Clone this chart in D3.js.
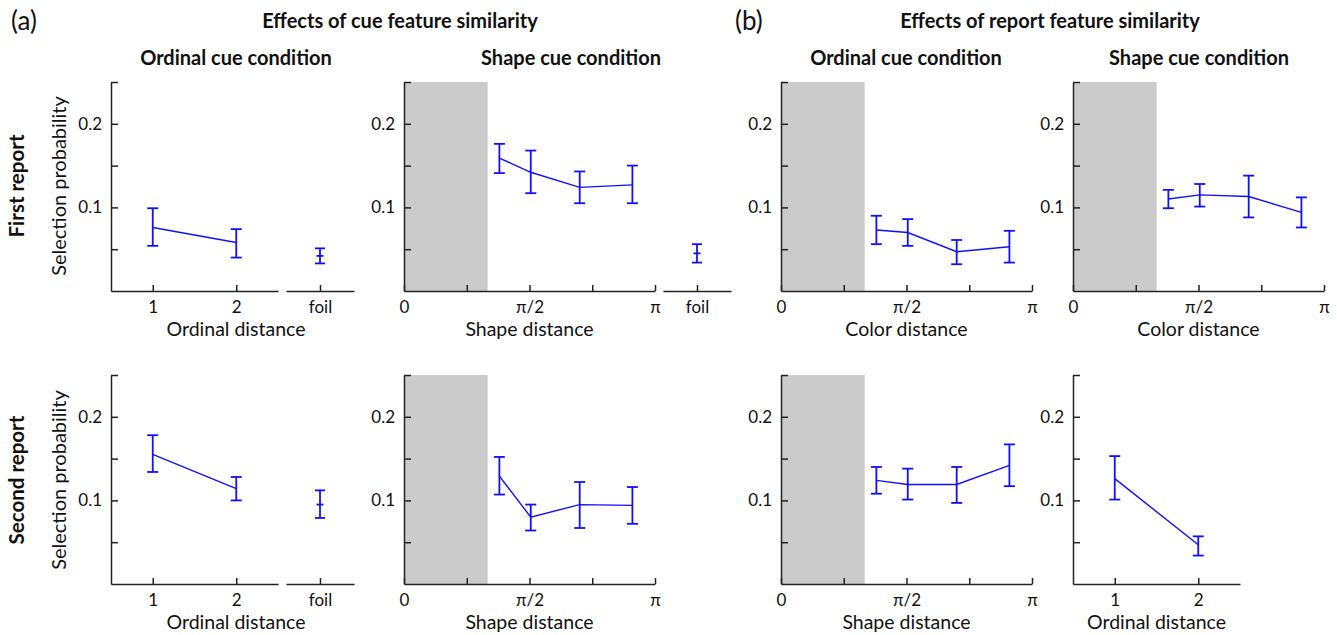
<!doctype html>
<html lang="en">
  <head>
    <meta charset="utf-8">
    <title>Feature similarity</title>
    <style>
      * { margin: 0; border: 0; padding: 0; }
      body { background-color: #fff; }
      text { font-family: Lato, 'Open Sans', sans-serif; fill: #111; }
      .axis path, .axis line { stroke: #222; stroke-width: 1.5px; }
      .axis text { font-size: 17px; fill: #111; font-family: Lato, sans-serif; }
      .series { fill: none; stroke: #1010ff; stroke-width: 1.4px; }
      .err { stroke: #1010ff; stroke-width: 1.8px; }
    </style>
  </head>
  <body>
    <div id="plot"></div>

<script src="https://d3js.org/d3.v7.min.js"></script>
<script>

  // x positions
  var ordinalX = [1, 2];
  var angleX = [0.38, 0.505, 0.70, 0.91];   // in units of pi
  var shadeEnd = 1 / 3;                      // grey region, units of pi

  // (a) first report
  var ordFirstMean = [0.076, 0.058];
  var ordFirstLo   = [0.054, 0.040];
  var ordFirstHi   = [0.099, 0.074];
  var ordFirstFoil = [0.042, 0.033, 0.051];  // mean, lo, hi

  var shapeFirstMean = [0.159, 0.142, 0.124, 0.127];
  var shapeFirstLo   = [0.141, 0.117, 0.105, 0.105];
  var shapeFirstHi   = [0.176, 0.168, 0.143, 0.150];
  var shapeFirstFoil = [0.045, 0.034, 0.056];

  // (b) first report
  var colorOrdFirstMean = [0.073, 0.070, 0.047, 0.053];
  var colorOrdFirstLo   = [0.056, 0.054, 0.032, 0.034];
  var colorOrdFirstHi   = [0.090, 0.086, 0.061, 0.072];

  var colorShapeFirstMean = [0.110, 0.115, 0.113, 0.094];
  var colorShapeFirstLo   = [0.099, 0.101, 0.088, 0.076];
  var colorShapeFirstHi   = [0.121, 0.128, 0.138, 0.112];

  // (a) second report
  var ordSecondMean = [0.155, 0.114];
  var ordSecondLo   = [0.134, 0.100];
  var ordSecondHi   = [0.178, 0.128];
  var ordSecondFoil = [0.095, 0.079, 0.112];

  var shapeSecondMean = [0.129, 0.080, 0.095, 0.094];
  var shapeSecondLo   = [0.107, 0.064, 0.067, 0.072];
  var shapeSecondHi   = [0.152, 0.095, 0.122, 0.116];

  // (b) second report
  var shapeOrdSecondMean = [0.124, 0.119, 0.119, 0.142];
  var shapeOrdSecondLo   = [0.108, 0.101, 0.097, 0.117];
  var shapeOrdSecondHi   = [0.140, 0.138, 0.140, 0.167];

  var ordShapeSecondMean = [0.126, 0.047];
  var ordShapeSecondLo   = [0.101, 0.034];
  var ordShapeSecondHi   = [0.153, 0.057];

  var yTicks = [0.05, 0.1, 0.15, 0.2, 0.25];
  var yLabels = {0.1: "0.1", 0.2: "0.2"};
  var angleTicks = [0, 0.25, 0.5, 0.75, 1];
  var angleLabels = {0: "0", 0.5: "\u03c0/2", 1: "\u03c0"};

  var width = 1337, height = 635;
  var svg = d3.select("#plot").append("svg").attr("width", width).attr("height", height);

  var rows = [[291, 82], [584, 375]];

  var panels = [
    {row: 0, x0: 111, x1: 278, kind: "ord", foil: [286, 354], mean: ordFirstMean, lo: ordFirstLo, hi: ordFirstHi, foilData: ordFirstFoil, label: "Ordinal distance", lx: 236},
    {row: 0, x0: 404, x1: 655, kind: "ang", foil: [663, 731], mean: shapeFirstMean, lo: shapeFirstLo, hi: shapeFirstHi, foilData: shapeFirstFoil, label: "Shape distance"},
    {row: 0, x0: 781, x1: 1032, kind: "ang", mean: colorOrdFirstMean, lo: colorOrdFirstLo, hi: colorOrdFirstHi, label: "Color distance"},
    {row: 0, x0: 1073, x1: 1324, kind: "ang", mean: colorShapeFirstMean, lo: colorShapeFirstLo, hi: colorShapeFirstHi, label: "Color distance"},
    {row: 1, x0: 111, x1: 278, kind: "ord", foil: [286, 354], mean: ordSecondMean, lo: ordSecondLo, hi: ordSecondHi, foilData: ordSecondFoil, label: "Ordinal distance", lx: 236},
    {row: 1, x0: 404, x1: 655, kind: "ang", mean: shapeSecondMean, lo: shapeSecondLo, hi: shapeSecondHi, label: "Shape distance"},
    {row: 1, x0: 781, x1: 1032, kind: "ang", mean: shapeOrdSecondMean, lo: shapeOrdSecondLo, hi: shapeOrdSecondHi, label: "Shape distance"},
    {row: 1, x0: 1073, x1: 1240, kind: "ord", mean: ordShapeSecondMean, lo: ordShapeSecondLo, hi: ordShapeSecondHi, label: "Ordinal distance"}
  ];

  function errorBar(g, x, lo, hi, mean, cap, markMean) {
    g.append("line").attr("class", "err").attr("x1", x).attr("x2", x).attr("y1", lo).attr("y2", hi);
    g.append("line").attr("class", "err").attr("x1", x - cap).attr("x2", x + cap).attr("y1", lo).attr("y2", lo);
    g.append("line").attr("class", "err").attr("x1", x - cap).attr("x2", x + cap).attr("y1", hi).attr("y2", hi);
    if (markMean) {
      g.append("line").attr("class", "err").attr("x1", x - 3.5).attr("x2", x + 3.5).attr("y1", mean).attr("y2", mean);
    }
  }

  panels.forEach(function(p) {
    var g = svg.append("g");
    var yscale = d3.scaleLinear().domain([0, 0.25]).range(rows[p.row]);
    var xs = p.kind == "ord" ? ordinalX : angleX;
    var xscale = p.kind == "ord"
      ? d3.scaleLinear().domain([0.5, 2.5]).range([p.x0, p.x1])
      : d3.scaleLinear().domain([0, 1]).range([p.x0, p.x1]);

    if (p.kind == "ang") {
      g.append("rect")
        .attr("x", xscale(0)).attr("y", yscale(0.25))
        .attr("width", xscale(shadeEnd) - xscale(0))
        .attr("height", yscale(0) - yscale(0.25))
        .attr("fill", "#cbcbcb");
    }

    var xaxis = p.kind == "ord"
      ? d3.axisBottom(xscale).tickValues(ordinalX).tickFormat(d3.format("d"))
      : d3.axisBottom(xscale).tickValues(angleTicks).tickFormat(d => angleLabels[d] || "");
    g.append("g").attr("class", "axis")
      .attr("transform", "translate(0," + yscale(0) + ")")
      .call(xaxis.tickSizeInner(-6).tickSizeOuter(0).tickPadding(10));

    g.append("g").attr("class", "axis")
      .attr("transform", "translate(" + p.x0 + ",0)")
      .call(d3.axisLeft(yscale).tickValues(yTicks).tickFormat(d => yLabels[d] || "")
        .tickSizeInner(-7).tickSizeOuter(0).tickPadding(9));

    var line = d3.line().x(d => xscale(d[0])).y(d => yscale(d[1]));
    g.append("path").attr("class", "series").attr("d", line(xs.map((e, i) => [e, p.mean[i]])));
    xs.forEach(function(e, i) {
      errorBar(g, xscale(e), yscale(p.lo[i]), yscale(p.hi[i]), yscale(p.mean[i]), 5.5, false);
    });

    if (p.foil) {
      var fscale = d3.scalePoint().domain(["foil"]).range(p.foil).padding(0.5);
      g.append("g").attr("class", "axis")
        .attr("transform", "translate(0," + yscale(0) + ")")
        .call(d3.axisBottom(fscale).tickSizeInner(-6).tickSizeOuter(0).tickPadding(10));
      if (p.foilData) {
        errorBar(g, fscale("foil"), yscale(p.foilData[1]), yscale(p.foilData[2]), yscale(p.foilData[0]), 5, true);
      }
    }

    var lx = p.lx || (p.x0 + p.x1) / 2;
    g.append("text").attr("x", lx).attr("y", yscale(0) + 45)
      .attr("text-anchor", "middle").style("font-size", "19.5px").text(p.label);
  });

  // headings
  svg.append("text").attr("x", 11).attr("y", 30).style("font-size", "26px").text("(a)");
  svg.append("text").attr("x", 735).attr("y", 30).style("font-size", "26px").text("(b)");

  var bold = [
    ["Effects of cue feature similarity", 400, 28],
    ["Effects of report feature similarity", 1050, 28],
    ["Ordinal cue condition", 236, 65],
    ["Shape cue condition", 571, 65],
    ["Ordinal cue condition", 906, 65],
    ["Shape cue condition", 1199, 65]
  ];
  bold.forEach(function(b) {
    svg.append("text").attr("x", b[1]).attr("y", b[2]).attr("text-anchor", "middle")
      .style("font-size", "20px").style("font-weight", "bold").text(b[0]);
  });

  [["First report", 186], ["Second report", 480]].forEach(function(r) {
    svg.append("text").attr("transform", "translate(24," + r[1] + ") rotate(-90)")
      .attr("text-anchor", "middle").style("font-size", "20.5px").style("font-weight", "bold").text(r[0]);
    svg.append("text").attr("transform", "translate(66," + r[1] + ") rotate(-90)")
      .attr("text-anchor", "middle").style("font-size", "20px").text("Selection probability");
  });

</script>
  </body>
</html>
